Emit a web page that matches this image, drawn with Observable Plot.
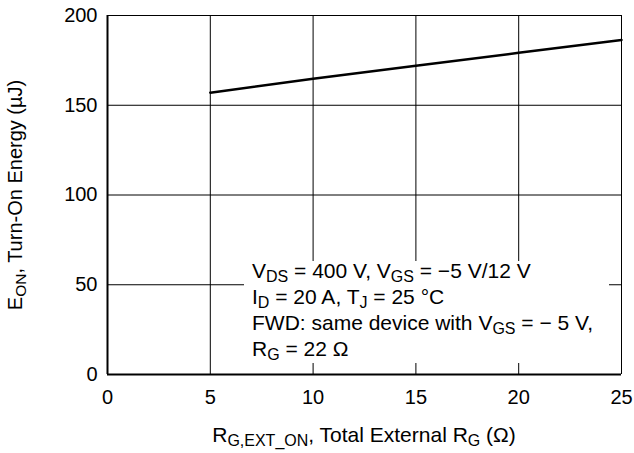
<!DOCTYPE html>
<html>
<head>
<meta charset="utf-8">
<script src="https://cdn.jsdelivr.net/npm/d3@7"></script>
<script src="https://cdn.jsdelivr.net/npm/@observablehq/plot@0.6"></script>
<style>
  body { margin: 0; background: #fff; }
  svg { font-family: "Liberation Sans", Arial, Helvetica, sans-serif; }
</style>
</head>
<body>
<div id="chart"></div>
<script>
// Turn-on energy versus total external gate resistance
const rg = [5, 10, 15, 20, 25];
const eon = [157, 164.8, 172, 179.2, 186.4];

const xTicks = [0, 5, 10, 15, 20, 25];
const yTicks = [0, 50, 100, 150, 200];

// Text runs: [text, isSubscript]
const xTitle = [["R"], ["G,EXT_ON", 1], [", Total External R"], ["G", 1], [" (Ω)"]];
const yTitle = [["E"], ["ON", 1], [", Turn-On Energy (µJ)"]];
const noteLines = [
  [["V"], ["DS", 1], [" = 400 V, V"], ["GS", 1], [" = −5 V/12 V"]],
  [["I"], ["D", 1], [" = 20 A, T"], ["J", 1], [" = 25 °C"]],
  [["FWD: same device with V"], ["GS", 1], [" = − 5 V,"]],
  [["R"], ["G", 1], [" = 22 Ω"]]
];

const points = rg.map((r, i) => ({r, e: eon[i]}));
const tickFont = 20;
const textFont = 21;

const chart = Plot.plot({
  width: 634,
  height: 453,
  marginLeft: 107,
  marginRight: 13,
  marginTop: 15,
  marginBottom: 79,
  style: {background: "#fff", color: "#000", fontSize: tickFont + "px", fontFamily: "Liberation Sans, Arial, sans-serif"},
  x: {domain: [0, 25]},
  y: {domain: [0, 200]},
  marks: [
    Plot.gridX(xTicks, {stroke: "#000", strokeOpacity: 1, strokeWidth: 1}),
    Plot.gridY(yTicks, {stroke: "#000", strokeOpacity: 1, strokeWidth: 1}),
    Plot.ruleX([0], {stroke: "#000", strokeWidth: 2}),
    Plot.ruleY([0], {stroke: "#000", strokeWidth: 2}),
    Plot.line(points, {x: "r", y: "e", stroke: "#000", strokeWidth: 2.5}),
    Plot.axisX(xTicks, {tickSize: 0, tickPadding: 15, label: null, fontSize: tickFont}),
    Plot.axisY(yTicks, {tickSize: 0, tickPadding: 10, label: null, fontSize: tickFont})
  ]
});

document.getElementById("chart").appendChild(chart);

const svg = d3.select(chart);

function addRuns(text, runs, subSize, shift) {
  let down = false;
  runs.forEach(([t, sub]) => {
    const ts = text.append("tspan").text(t);
    if (sub && !down) { ts.attr("dy", shift); down = true; }
    else if (!sub && down) { ts.attr("dy", -shift); down = false; }
    if (sub) ts.attr("font-size", subSize);
  });
}

// Condition box, masking the grid behind the text
const note = svg.append("g").attr("text-anchor", "start");
note.append("rect")
  .attr("x", 244).attr("y", 261)
  .attr("width", 365).attr("height", 102)
  .attr("fill", "#fff");
noteLines.forEach((runs, i) => {
  const t = note.append("text")
    .attr("x", 252).attr("y", 278 + i * 26)
    .attr("font-size", textFont).attr("fill", "#000");
  addRuns(t, runs, 16, 4);
});

// Axis titles
const xt = svg.append("text")
  .attr("x", 364).attr("y", 442)
  .attr("text-anchor", "middle")
  .attr("font-size", textFont).attr("fill", "#000");
addRuns(xt, xTitle, 16, 4);

const yt = svg.append("text")
  .attr("transform", "translate(22,195) rotate(-90)")
  .attr("text-anchor", "middle")
  .attr("font-size", 20).attr("fill", "#000");
addRuns(yt, yTitle, 15.5, 4);
</script>
</body>
</html>
